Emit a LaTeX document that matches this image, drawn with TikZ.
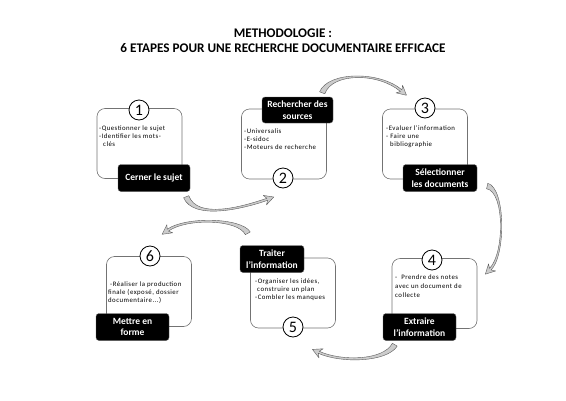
\documentclass[tikz,border=0pt]{standalone}
\usepackage{fontspec}
\setmainfont{Carlito}
\newfontfamily\bodyfont[LetterSpace=7]{Carlito}
\usetikzlibrary{calc}
\tikzset{
  stepframe/.style={draw=black!55, line width=0.6pt, rounded corners=8pt, fill=white, minimum width=85pt, minimum height=70pt, inner sep=0pt},
  steplabel/.style={fill=black, draw=black!60, line width=0.4pt, rounded corners=3pt, text=white, font=\bfseries\fontsize{9.5}{11.5}\selectfont, align=center, minimum height=27pt, inner sep=1pt},
  stepnum/.style={circle, draw=black, fill=white, line width=0.8pt, minimum size=20pt, inner sep=0pt, font=\fontsize{16}{16}\selectfont},
  steptext/.style={anchor=north west, align=left, font=\bodyfont\fontsize{6.8}{7.8}\selectfont, inner sep=0pt},
  flowarrow/.style={fill=black!20, draw=black!65, line width=0.4pt, line join=round},
  titletext/.style={font=\bfseries\fontsize{13.2}{15}\selectfont, align=center},
}
\newcommand\blockarrow[4]{%
  \coordinate (ba-s) at (#1);
  \coordinate (ba-c1) at (#2);
  \coordinate (ba-c2) at (#3);
  \coordinate (ba-e) at (#4);
  \coordinate (ba-sl) at ($(ba-s)!2.8pt!90:(ba-c1)$);
  \coordinate (ba-sr) at ($(ba-s)!2.8pt!-90:(ba-c1)$);
  \coordinate (ba-el) at ($(ba-e)!1.1pt!-90:(ba-c2)$);
  \coordinate (ba-er) at ($(ba-e)!1.1pt!90:(ba-c2)$);
  \coordinate (ba-c1l) at ($(ba-c1)+0.7*(ba-sl)-0.7*(ba-s)$);
  \coordinate (ba-c1r) at ($(ba-c1)+0.7*(ba-sr)-0.7*(ba-s)$);
  \coordinate (ba-c2l) at ($(ba-c2)+(ba-el)-(ba-e)$);
  \coordinate (ba-c2r) at ($(ba-c2)+(ba-er)-(ba-e)$);
  \coordinate (ba-t) at ($(ba-e)!-7pt!(ba-c2)$);
  \coordinate (ba-b) at ($(ba-e)!2.5pt!(ba-c2)$);
  \coordinate (ba-wl) at ($(ba-b)!5pt!-90:(ba-c2)$);
  \coordinate (ba-wr) at ($(ba-b)!5pt!90:(ba-c2)$);
  \filldraw[flowarrow] (ba-sl) .. controls (ba-c1l) and (ba-c2l) .. (ba-el) -- (ba-wl) -- (ba-t) -- (ba-wr) -- (ba-er) .. controls (ba-c2r) and (ba-c1r) .. (ba-sr) -- cycle;
}
\begin{document}
\begin{tikzpicture}[x=1pt,y=-1pt]
\useasboundingbox (0,0) rectangle (566,400);
\node[titletext] (title) at (283,40.5) {METHODOLOGIE :\\6 ETAPES POUR UNE RECHERCHE DOCUMENTAIRE EFFICACE};

% frames
\node[stepframe] (frame1) at (139.5,143.5) {};
\node[stepframe] (frame2) at (284,144) {};
\node[stepframe] (frame3) at (425,144) {};
\node[stepframe] (frame4) at (434.5,293.5) {};
\node[stepframe] (frame5) at (293,293) {};
\node[stepframe] (frame6) at (149,291.5) {};

% texts
\node[steptext] (txt1) at (99,126) {-Questionner le sujet\\-Identifier les mots-\\\ \ clés};
\node[steptext] (txt2) at (244,129) {-Universalis\\-E-sidoc\\-Moteurs de recherche};
\node[steptext] (txt3) at (386,126) {-Evaluer l’information\\- Faire une\\\ \ bibliographie};
\node[steptext] (txt4) at (395,274.5) {-\ \ Prendre des notes\\[1pt]avec un document de\\[1pt]collecte};
\node[steptext] (txt5) at (255,279) {-Organiser les idées,\\\ construire un plan\\-Combler les manques};
\node[steptext] (txt6) at (108,282) {\ -Réaliser la production\\finale (exposé, dossier\\documentaire...)};

% black labels
\node[steplabel, minimum width=72pt] (lab1) at (154,178) {Cerner le sujet};
\node[steplabel, minimum width=71pt, minimum height=26pt] (lab2) at (297.5,110) {Rechercher des\\sources};
\node[steplabel, minimum width=74pt] (lab3) at (440,178) {Sélectionner\\les documents};
\node[steplabel, minimum width=73pt] (lab4) at (419.5,327) {Extraire\\l’information};
\node[steplabel, minimum width=64pt] (lab5) at (272,259) {Traiter\\l’information};
\node[steplabel, minimum width=73pt] (lab6) at (132.5,327) {Mettre en\\forme};

% numbers
\node[stepnum] (num1) at (139,110) {1};
\node[stepnum] (num2) at (283,178) {2};
\node[stepnum] (num3) at (425,108) {3};
\node[stepnum] (num4) at (432,260) {4};
\node[stepnum] (num5) at (293,327) {5};
\node[stepnum] (num6) at (150,256) {6};

% arrows
\blockarrow{$(lab1.south east)+(-4,5)$}{$(lab1.south east)+(5,28)$}{$(frame2.south west)+(0,29)$}{$(frame2.south west)+(26,20)$}
\blockarrow{$(lab2.north east)+(-11,-4)$}{$(lab2.north east)+(-3,-25)$}{$(frame3.north west)+(-3,-37)$}{$(frame3.north west)+(19,-18)$}
\blockarrow{$(lab3.east)+(10,8)$}{$(lab3.east)+(28,12)$}{$(frame4.north east)+(28,-4)$}{$(frame4.north east)+(13,11)$}
\blockarrow{$(lab4.south west)+(12,4)$}{$(lab4.south west)+(2,21)$}{$(frame5.south east)+(5,34)$}{$(frame5.south east)+(-17,24)$}
\blockarrow{$(lab5.north west)+(8,-12)$}{$(lab5.north west)+(0,-27)$}{$(frame6.north east)+(-6,-39)$}{$(frame6.north east)+(-24,-26)$}
\end{tikzpicture}
\end{document}
